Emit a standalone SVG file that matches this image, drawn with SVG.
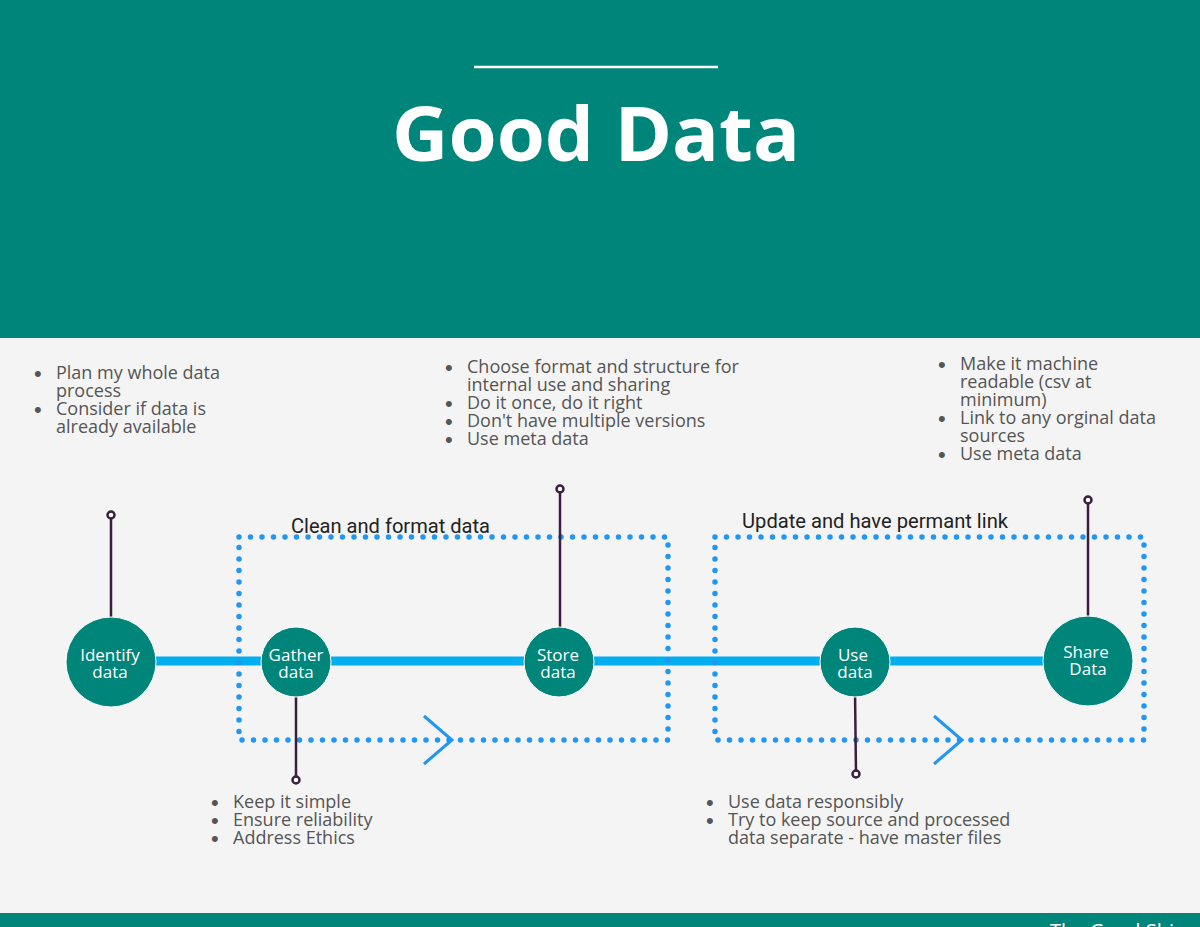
<svg xmlns="http://www.w3.org/2000/svg" width="1200" height="927" viewBox="0 0 1200 927">
<style>
.b{font-family:"Open Sans","Liberation Sans",sans-serif;font-size:18px;fill:#555}
.bu{font-family:"Liberation Sans",sans-serif;font-size:22px;fill:#555}
.n{font-family:"Open Sans","Liberation Sans",sans-serif;font-size:17px;fill:#fff;text-anchor:middle}
.nd{fill:#00857A;stroke:#fff;stroke-width:1}
.st{stroke:#3a1f3d;stroke-width:2.5}
.pin{fill:#fff;stroke:#3a1f3d;stroke-width:2.5}
.dot{fill:none;stroke:#2196F3;stroke-width:5.5;stroke-linecap:round;stroke-dasharray:0 11.5}
.chev{fill:none;stroke:#2196F3;stroke-width:3}
.lbl{font-family:"Roboto","Liberation Sans",sans-serif;font-size:21px;fill:#222}
</style>
<rect width="1200" height="927" fill="#F4F4F4"/>
<rect width="1200" height="338" fill="#00857A"/>
<line x1="474" y1="67" x2="718" y2="67" stroke="#fff" stroke-width="2.5"/>
<text x="596" y="161" text-anchor="middle" font-family="'Open Sans','Liberation Sans',sans-serif" font-weight="700" font-size="76" fill="#fff" textLength="408" lengthAdjust="spacingAndGlyphs">Good Data</text>
<rect y="913" width="1200" height="14" fill="#00857A"/>
<text x="1050" y="938" font-family="'Open Sans','Liberation Sans',sans-serif" font-size="20" fill="#fff">The Good Ship</text>
<g id="connectors">
<line x1="110" y1="661" x2="1088" y2="661" stroke="#03AEEF" stroke-width="9"/>
<rect class="dot" x="239" y="537" width="429" height="203"/>
<rect class="dot" x="715" y="537" width="429" height="203"/>
<polyline class="chev" points="424,716 452,740 424,764"/>
<polyline class="chev" points="934,716 962,740 934,764"/>
<text class="lbl" x="291" y="533" textLength="199" lengthAdjust="spacingAndGlyphs">Clean and format data</text>
<text class="lbl" x="742" y="528" textLength="266" lengthAdjust="spacingAndGlyphs">Update and have permant link</text>
</g>
<g id="identify"><line class="st" x1="111" y1="515" x2="111" y2="620"/><circle class="pin" cx="111" cy="515" r="3.5"/><circle class="nd" cx="111" cy="662" r="45"/><text class="n" x="110" y="661">Identify</text><text class="n" x="110" y="678">data</text></g>
<g id="gather"><line class="st" x1="296" y1="690" x2="296" y2="780"/><circle class="pin" cx="296" cy="780" r="3.5"/><circle class="nd" cx="296" cy="662" r="35"/><text class="n" x="296" y="661">Gather</text><text class="n" x="296" y="678">data</text></g>
<g id="store"><line class="st" x1="560" y1="489" x2="560" y2="630"/><circle class="pin" cx="560" cy="489" r="3.5"/><circle class="nd" cx="559" cy="662" r="35"/><text class="n" x="558" y="661">Store</text><text class="n" x="558" y="678">data</text></g>
<g id="use"><line class="st" x1="855" y1="690" x2="856" y2="774"/><circle class="pin" cx="856" cy="774" r="3.5"/><circle class="nd" cx="855" cy="662" r="35"/><text class="n" x="853" y="661">Use</text><text class="n" x="855" y="678">data</text></g>
<g id="share"><line class="st" x1="1088" y1="500" x2="1088" y2="620"/><circle class="pin" cx="1088" cy="500" r="3.5"/><circle class="nd" cx="1088" cy="661" r="45"/><text class="n" x="1086" y="658">Share</text><text class="n" x="1088" y="675">Data</text></g>
<g id="notes">
<g class="bu">
<text x="34" y="381">•</text><text x="34" y="417">•</text>
<text x="445" y="375">•</text><text x="445" y="411">•</text><text x="445" y="429">•</text><text x="445" y="447">•</text>
<text x="938" y="372">•</text><text x="938" y="426">•</text><text x="938" y="462">•</text>
<text x="211" y="810">•</text><text x="211" y="828">•</text><text x="211" y="846">•</text>
<text x="706" y="810">•</text><text x="706" y="828">•</text>
</g>
<g class="b">
<text x="56" y="379">Plan my whole data</text><text x="56" y="397">process</text>
<text x="56" y="415">Consider if data is</text><text x="56" y="433">already available</text>
<text x="467" y="373">Choose format and structure for</text><text x="467" y="391">internal use and sharing</text>
<text x="467" y="409">Do it once, do it right</text>
<text x="467" y="427">Don't have multiple versions</text>
<text x="467" y="445">Use meta data</text>
<text x="960" y="370">Make it machine</text><text x="960" y="388">readable (csv at</text><text x="960" y="406">minimum)</text>
<text x="960" y="424">Link to any orginal data</text><text x="960" y="442">sources</text>
<text x="960" y="460">Use meta data</text>
<text x="233" y="808">Keep it simple</text>
<text x="233" y="826">Ensure reliability</text>
<text x="233" y="844">Address Ethics</text>
<text x="728" y="808">Use data responsibly</text>
<text x="728" y="826">Try to keep source and processed</text><text x="728" y="844">data separate - have master files</text>
</g></g>
</svg>
